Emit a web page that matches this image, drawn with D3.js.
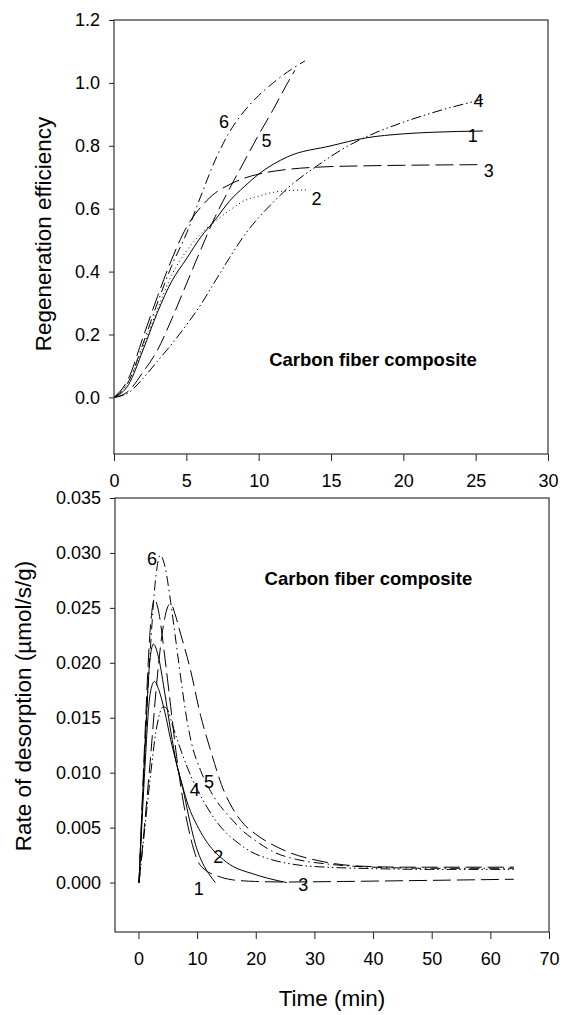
<!DOCTYPE html>
<html>
<head>
<meta charset="utf-8">
<script src="https://cdn.jsdelivr.net/npm/d3@7"></script>
<style>
  body { margin: 0; background: #fff; }
  svg { display: block; }
</style>
</head>
<body>
<script>
// regeneration efficiency vs time, [min, value]
const regen1 = [[0,0],[1,0.04],[2,0.15],[3,0.27],[4,0.37],[5,0.44],[6,0.51],[7,0.565],[8,0.625],[9,0.67],[10,0.71],[12,0.765],[15,0.80],[17.4,0.825],[20,0.838],[22,0.843],[25.5,0.847]];
const regen2 = [[0,0],[1,0.05],[2,0.16],[3,0.28],[4,0.39],[5,0.465],[6,0.52],[7,0.56],[8,0.595],[9,0.625],[10,0.64],[11,0.652],[12,0.657],[13.4,0.66]];
const regen3 = [[0,0],[1,0.06],[2,0.19],[3,0.32],[4,0.44],[5,0.54],[6,0.605],[7,0.65],[8,0.677],[9,0.697],[10,0.71],[12,0.725],[14,0.732],[17,0.736],[20,0.738],[25.3,0.74]];
const regen4 = [[0,0],[1,0.015],[2,0.06],[3,0.115],[4,0.17],[5,0.23],[6,0.295],[7,0.37],[8,0.445],[9,0.515],[10,0.572],[11,0.62],[12,0.665],[14,0.735],[16,0.795],[18,0.84],[20,0.875],[22,0.905],[25.5,0.948]];
const regen5 = [[0,0],[1,0.02],[2,0.08],[3,0.15],[4,0.25],[5,0.36],[6,0.47],[7,0.575],[8,0.665],[9,0.75],[10,0.835],[11,0.915],[12,1.0],[12.5,1.04]];
const regen6 = [[0,0],[1,0.05],[2,0.17],[3,0.3],[4,0.42],[5,0.52],[6,0.64],[7,0.755],[8,0.845],[9,0.91],[10,0.96],[11,1.0],[12,1.035],[13.2,1.07]];

// rate of desorption vs time, [min, umol/s/g]
const rate1 = [[0.1,0],[1,0.011],[2,0.0205],[2.56,0.0217],[3.5,0.0203],[4.5,0.0172],[5.5,0.0138],[6.5,0.0108],[7.6,0.0085],[8.5,0.0062],[9.7,0.0035],[11,0.0017],[12,0.0008],[13.1,0]];
const rate2 = [[0.1,0],[1,0.0095],[2,0.0172],[2.73,0.0183],[3.5,0.0175],[4.5,0.0155],[5.5,0.013],[6.5,0.0108],[7.5,0.0088],[8.5,0.007],[10,0.0052],[12.5,0.0031],[14,0.0023],[16,0.0015],[19.2,0.00085],[22,0.0004],[25.3,0]];
const rate3 = [[0.1,0],[1,0.012],[2,0.023],[2.73,0.0258],[3.5,0.0245],[4.5,0.0205],[5.5,0.016],[6.5,0.0115],[7.5,0.0078],[8.5,0.005],[10,0.0021],[11.5,0.0011],[13,0.0007],[16,0.00025],[20,0.0001],[25,0.00005],[35,0.0001],[50,0.0002],[64,0.0003]];
const rate4 = [[0.1,0],[1,0.0045],[2,0.0095],[3,0.0138],[4.26,0.016],[5,0.0157],[5.7,0.0145],[7.4,0.0118],[9.1,0.0095],[10,0.0085],[11,0.0075],[13.1,0.0057],[15,0.0045],[17,0.0036],[19.2,0.0028],[22,0.0022],[27.2,0.0016],[32,0.0014],[37.6,0.0013],[50,0.0012],[64,0.0012]];
const rate5 = [[0.1,0],[1,0.005],[2,0.011],[3,0.0175],[4,0.0225],[5,0.0251],[5.5,0.0254],[6.2,0.0245],[7.1,0.0228],[8.8,0.0195],[10.6,0.0152],[12.2,0.0122],[14.6,0.0083],[16,0.0068],[18,0.0053],[20,0.0044],[25,0.0029],[31.5,0.0019],[37.6,0.0015],[45,0.0014],[64,0.0014]];
const rate6 = [[0.1,0],[1,0.011],[2,0.021],[3,0.028],[3.7,0.0298],[4.5,0.0288],[5.5,0.0255],[6.5,0.0215],[7.5,0.0175],[8.2,0.015],[9,0.0128],[10.6,0.0102],[12,0.0086],[13.1,0.0076],[15.5,0.006],[18,0.0046],[20,0.0038],[23,0.0028],[27,0.0021],[32,0.0017],[40,0.0014],[50,0.0013],[64,0.0013]];

// tick values
const regenTicksX = [0, 5, 10, 15, 20, 25, 30];
const regenTicksY = [0, 0.2, 0.4, 0.6, 0.8, 1.0, 1.2];
const rateTicksX = [0, 10, 20, 30, 40, 50, 60, 70];
const rateTicksY = [0, 0.005, 0.01, 0.015, 0.02, 0.025, 0.03, 0.035];

// curve label positions [label, x, y]
const regenLabels = [["1", 24.8, 0.833], ["2", 14.0, 0.633], ["3", 25.9, 0.721], ["4", 25.2, 0.945], ["5", 10.55, 0.818], ["6", 7.6, 0.877]];
const rateLabels = [["1", 10.3, -0.0005], ["2", 13.6, 0.0024], ["3", 28.1, -0.00015], ["4", 9.6, 0.0085], ["5", 12.05, 0.0092], ["6", 2.3, 0.0295]];

const font = "'Liberation Sans', Arial, sans-serif";

const svg = d3.select("body").append("svg").attr("width", 562).attr("height", 1015);

function panel(cfg) {
  const x = d3.scaleLinear().domain(cfg.xDomain).range(cfg.xRange);
  const y = d3.scaleLinear().domain(cfg.yDomain).range(cfg.yRange);

  const line = d3.line()
    .x((d) => x(d[0]))
    .y((d) => y(d[1]))
    .curve(d3.curveMonotoneX);

  const g = svg.append("g");

  g.append("g")
    .attr("fill", "none")
    .attr("stroke", "#000")
    .attr("stroke-width", 1)
    .selectAll("path")
    .data(cfg.series)
    .join("path")
    .attr("d", (s) => line(s.data))
    .attr("stroke-dasharray", (s) => s.dash);

  const xAxis = g.append("g")
    .attr("transform", `translate(0,${cfg.yRange[0]})`)
    .call(d3.axisBottom(x).tickValues(cfg.xTicks).tickFormat(d3.format("d")).tickSize(7).tickPadding(13).tickSizeOuter(0));
  const yAxis = g.append("g")
    .attr("transform", `translate(${cfg.xRange[0]},0)`)
    .call(d3.axisLeft(y).tickValues(cfg.yTicks).tickFormat(d3.format(cfg.yFormat)).tickSize(5).tickPadding(9).tickSizeOuter(0));

  [xAxis, yAxis].forEach((a) => {
    a.select(".domain").remove();
    a.selectAll("line").attr("stroke", "#222");
    a.selectAll("text").attr("font-family", font).attr("font-size", 18).attr("fill", "#000");
  });

  // frame
  g.append("rect")
    .attr("x", cfg.xRange[0])
    .attr("y", cfg.yRange[1])
    .attr("width", cfg.xRange[1] - cfg.xRange[0])
    .attr("height", cfg.yRange[0] - cfg.yRange[1])
    .attr("fill", "none")
    .attr("stroke", "#333")
    .attr("stroke-width", 1.2);

  g.append("g")
    .selectAll("text")
    .data(cfg.labels)
    .join("text")
    .attr("x", (d) => x(d[1]))
    .attr("y", (d) => y(d[2]))
    .attr("dy", "0.36em")
    .attr("text-anchor", "middle")
    .attr("font-family", font)
    .attr("font-size", 18)
    .text((d) => d[0]);

  g.append("text")
    .attr("x", x(cfg.note[0]))
    .attr("y", y(cfg.note[1]))
    .attr("dy", "0.36em")
    .attr("text-anchor", "middle")
    .attr("font-family", font)
    .attr("font-weight", "bold")
    .attr("font-size", 18.5)
    .text("Carbon fiber composite");

  g.append("text")
    .attr("transform", `translate(${cfg.yTitlePos[0]},${cfg.yTitlePos[1]}) rotate(-90)`)
    .attr("text-anchor", "middle")
    .attr("font-family", font)
    .attr("font-size", 22.5)
    .text(cfg.yTitle);

  return { x, y, g };
}

const dashes = ["none", "1,3", "18,6", "10,3,1.5,3,1.5,3", "16,6", "10,4,1.5,4"];

panel({
  xDomain: [0, 30], xRange: [114, 548],
  yDomain: [-0.18, 1.2], yRange: [454, 20],
  xTicks: regenTicksX, yTicks: regenTicksY, yFormat: ".1f",
  series: [regen1, regen2, regen3, regen4, regen5, regen6].map((d, i) => ({ data: d, dash: dashes[i] })),
  labels: regenLabels,
  note: [17.9, 0.122],
  yTitle: "Regeneration efficiency",
  yTitlePos: [51, 234]
});

panel({
  xDomain: [-4, 70], xRange: [115, 549],
  yDomain: [-0.0045, 0.035], yRange: [932, 498],
  xTicks: rateTicksX, yTicks: rateTicksY, yFormat: ".3f",
  series: [rate1, rate2, rate3, rate4, rate5, rate6].map((d, i) => ({ data: d, dash: i === 1 ? "none" : dashes[i] })),
  labels: rateLabels,
  note: [39.2, 0.0277],
  yTitle: "Rate of desorption (\u00b5mol/s/g)",
  yTitlePos: [31, 706]
});

svg.append("text")
  .attr("x", 332)
  .attr("y", 1006)
  .attr("text-anchor", "middle")
  .attr("font-family", font)
  .attr("font-size", 22.5)
  .text("Time (min)");
</script>
</body>
</html>
